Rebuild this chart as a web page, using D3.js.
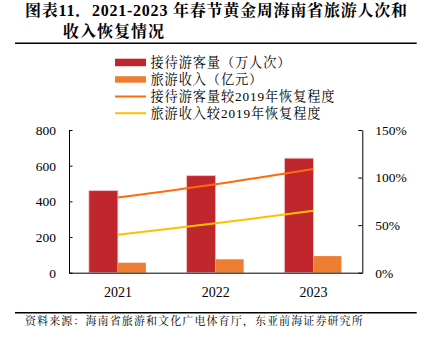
<!DOCTYPE html>
<html><head><meta charset="utf-8">
<script src="https://cdn.jsdelivr.net/npm/d3@7"></script>
<style>
html,body{margin:0;padding:0;background:#fff;}
svg{display:block;}
</style></head>
<body>
<svg id="c" width="426" height="337"></svg>
<script>
const years = ["2021", "2022", "2023"];
const visitors = [460, 544, 642];          // 接待游客量（万人次）
const revenue = [56, 75, 93];              // 旅游收入（亿元）
const visitorRecovery = [79, 93, 109];     // 接待游客量较2019年恢复程度 (%)
const revenueRecovery = [40, 52, 65];      // 旅游收入较2019年恢复程度 (%)
const leftTicks = [0, 200, 400, 600, 800];
const rightTicks = [0, 50, 100, 150];
const legendLabels = ["接待游客量（万人次）", "旅游收入（亿元）", "接待游客量较2019年恢复程度", "旅游收入较2019年恢复程度"];
const titleLine1 = "图表11．2021-2023 年春节黄金周海南省旅游人次和";
const titleLine2 = "收入恢复情况";
const sourceText = "资料来源：海南省旅游和文化广电体育厅，东亚前海证券研究所";

const C_RED = "#C0272D", C_ORANGE = "#ED7D31", C_LINE1 = "#FF6A0A", C_LINE2 = "#FFC000";
const serif = "'Liberation Serif','Times New Roman',serif";
const cjk = "'Liberation Serif','Noto Serif CJK SC','Noto Sans CJK SC',serif";

const svg = d3.select("#c");
const L = 69, R = 362.3, T = 130, B = 272.7;

// Title
svg.append("text").attr("x", 25).attr("y", 15.5)
  .attr("font-family", cjk).attr("font-weight", "bold").attr("font-size", 16)
  .attr("textLength", 382).attr("lengthAdjust", "spacing")
  .attr("fill", "#000").text(titleLine1);
svg.append("text").attr("x", 63).attr("y", 37)
  .attr("font-family", cjk).attr("font-weight", "bold").attr("font-size", 16)
  .attr("letter-spacing", 1).attr("fill", "#000").text(titleLine2);
svg.append("line").attr("x1", 15).attr("x2", 416.7).attr("y1", 43.3).attr("y2", 43.3)
  .attr("stroke", "#000").attr("stroke-width", 1.5);

// Scales
const x0 = d3.scaleBand().domain(years).range([L, R]).paddingInner(0).paddingOuter(0);
const bw = x0.bandwidth();
const x1 = d3.scaleBand().domain(["v", "r"]).range([bw / 2 - 29, bw / 2 + 29]).padding(0);
const yL = d3.scaleLinear().domain([0, 800]).range([B, T]);
const yR = d3.scaleLinear().domain([0, 150]).range([B, T]);

// Bars
const g = svg.append("g");
years.forEach((yr, i) => {
  g.append("rect").attr("x", x0(yr) + x1("v")).attr("width", x1.bandwidth())
    .attr("y", yL(visitors[i])).attr("height", yL(0) - yL(visitors[i]))
    .attr("fill", C_RED).attr("stroke", "#f2c4c6").attr("stroke-width", 0.8);
  g.append("rect").attr("x", x0(yr) + x1("r")).attr("width", x1.bandwidth() - 1)
    .attr("y", yL(revenue[i])).attr("height", yL(0) - yL(revenue[i]))
    .attr("fill", C_ORANGE);
});

// Lines
const cx = yr => x0(yr) + bw / 2;
const lineGen = d3.line().x(d => cx(d.y)).y(d => yR(d.v)).curve(d3.curveCatmullRom);
svg.append("path").datum(years.map((y, i) => ({y, v: visitorRecovery[i]})))
  .attr("d", lineGen).attr("fill", "none").attr("stroke", C_LINE1).attr("stroke-width", 2);
svg.append("path").datum(years.map((y, i) => ({y, v: revenueRecovery[i]})))
  .attr("d", lineGen).attr("fill", "none").attr("stroke", C_LINE2).attr("stroke-width", 2);

// Axes
const axL = svg.append("g").attr("transform", `translate(${L},0)`)
  .call(d3.axisLeft(yL).tickValues(leftTicks).tickSize(-3.5).tickPadding(13).tickSizeOuter(0));
const axR = svg.append("g").attr("transform", `translate(${R},0)`)
  .call(d3.axisRight(yR).tickValues(rightTicks).tickSize(-4).tickPadding(13)
    .tickSizeOuter(0).tickFormat(d => d + "%"));
const axB = svg.append("g").attr("transform", `translate(0,${B})`)
  .call(d3.axisBottom(x0).tickSize(0).tickPadding(14).tickSizeOuter(0));
[axL, axR, axB].forEach(a => {
  a.selectAll("path,line").attr("stroke", "#000").attr("stroke-width", 1);
  a.selectAll("text").attr("font-family", serif).attr("font-size", 13.5).attr("fill", "#000");
});
axB.selectAll("text").attr("font-size", 14);

// Legend
const legY = [62.5, 79.5, 96.5, 113.2];
const lg = svg.append("g");
legendLabels.forEach((lab, i) => {
  const y = legY[i];
  if (i === 0) lg.append("rect").attr("x", 115).attr("y", y - 3.8).attr("width", 31).attr("height", 7.5).attr("fill", C_RED);
  else if (i === 1) lg.append("rect").attr("x", 115).attr("y", y - 3.3).attr("width", 31).attr("height", 6.5).attr("fill", C_ORANGE);
  else lg.append("line").attr("x1", 115).attr("x2", 146).attr("y1", y).attr("y2", y)
    .attr("stroke", i === 2 ? C_LINE1 : C_LINE2).attr("stroke-width", 2);
  lg.append("text").attr("x", 150.5).attr("y", y).attr("dy", "0.36em")
    .attr("font-family", cjk).attr("font-size", 13.2).attr("letter-spacing", 0.9)
    .attr("fill", "#000").text(lab);
});

// Footer
svg.append("line").attr("x1", 15).attr("x2", 416.7).attr("y1", 312.7).attr("y2", 312.7)
  .attr("stroke", "#000").attr("stroke-width", 1.5);
svg.append("text").attr("x", 25).attr("y", 325.3)
  .attr("font-family", cjk).attr("font-size", 11).attr("letter-spacing", 1.1)
  .attr("fill", "#000").text(sourceText);
</script>
</body></html>
